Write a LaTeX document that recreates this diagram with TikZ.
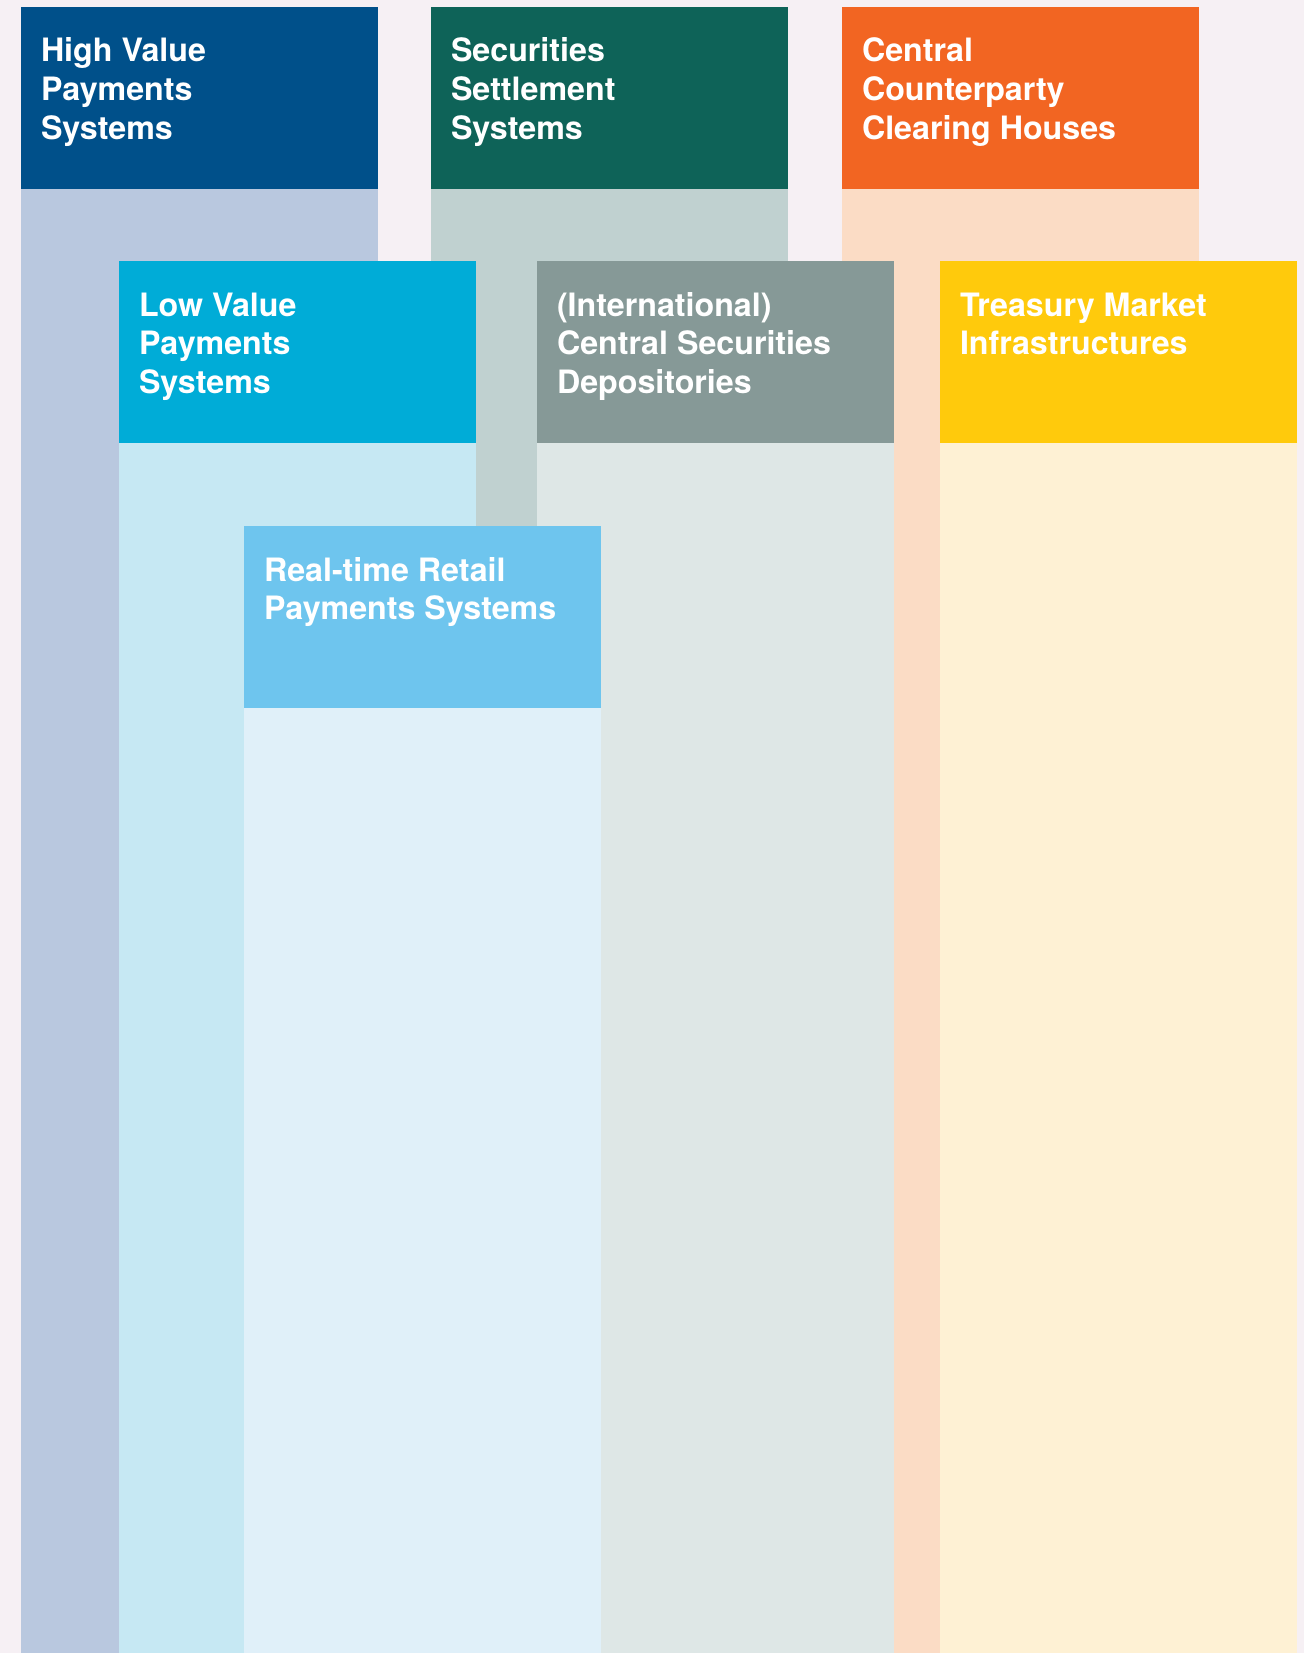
\documentclass[tikz,border=0pt]{standalone}
\usepackage{fontspec}
\setmainfont{TeX Gyre Heros}
\usetikzlibrary{calc}

\definecolor{pagebg}{HTML}{F6F0F4}
\definecolor{hvpHead}{HTML}{00508A}
\definecolor{hvpBody}{HTML}{B9C8DF}
\definecolor{sssHead}{HTML}{0E6358}
\definecolor{sssBody}{HTML}{C0D1D0}
\definecolor{ccpHead}{HTML}{F26522}
\definecolor{ccpBody}{HTML}{FBDCC5}
\definecolor{lvpHead}{HTML}{00ACD7}
\definecolor{lvpBody}{HTML}{C6E8F3}
\definecolor{csdHead}{HTML}{869997}
\definecolor{csdBody}{HTML}{DEE7E6}
\definecolor{tmiHead}{HTML}{FFCA0C}
\definecolor{tmiBody}{HTML}{FEF1D4}
\definecolor{rrpHead}{HTML}{6EC5EE}
\definecolor{rrpBody}{HTML}{E0F0F9}

\tikzset{
  header/.style={rectangle, draw=none, inner sep=0pt, outer sep=0pt,
    minimum width=357bp, minimum height=182bp, anchor=north west},
  column/.style={rectangle, draw=none, inner sep=0pt, outer sep=0pt,
    minimum width=357bp, anchor=north west},
  title/.style={anchor=base west, inner sep=0pt, outer sep=0pt, align=left,
    text=white, font=\fontsize{32.2bp}{38.5bp}\selectfont\bfseries}
}

% one system: header block with its title, and a pale column down to the bottom edge
% #1 name, #2 x, #3 y, #4 header colour, #5 column colour, #6 number of title lines, #7 title
% (a multi-line node sits on the baseline of its last line)
\newcommand{\fmisystem}[7]{%
  \pgfmathsetmacro{\colh}{1653-#3-182}%
  \pgfmathsetmacro{\lastbase}{55+38.5*(#6-1)}%
  \node[column, fill=#5, minimum height=\colh bp] (#1body) at (#2,#3+182) {};
  \node[header, fill=#4] (#1) at (#2,#3) {};
  \node[title] (#1title) at ($(#1.north west)+(20,\lastbase)$) {#7};
}

\begin{document}
\begin{tikzpicture}[x=1bp,y=-1bp]
  \fill[pagebg] (0,0) rectangle (1304,1653);
  \useasboundingbox (0,0) rectangle (1304,1653);

  % top row
  \fmisystem{hvp}{21}{7}{hvpHead}{hvpBody}{3}{High Value\\Payments\\Systems}
  \fmisystem{sss}{431}{7}{sssHead}{sssBody}{3}{Securities\\Settlement\\Systems}
  \fmisystem{ccp}{842}{7}{ccpHead}{ccpBody}{3}{Central\\Counterparty\\Clearing Houses}

  % middle row
  \fmisystem{lvp}{119}{261}{lvpHead}{lvpBody}{3}{Low Value\\Payments\\Systems}
  \fmisystem{csd}{537}{261}{csdHead}{csdBody}{3}{(International)\\Central Securities\\Depositories}
  \fmisystem{tmi}{940}{261}{tmiHead}{tmiBody}{2}{Treasury Market\\Infrastructures}

  % bottom row
  \fmisystem{rrp}{244}{526}{rrpHead}{rrpBody}{2}{Real-time Retail\\Payments Systems}
\end{tikzpicture}
\end{document}
